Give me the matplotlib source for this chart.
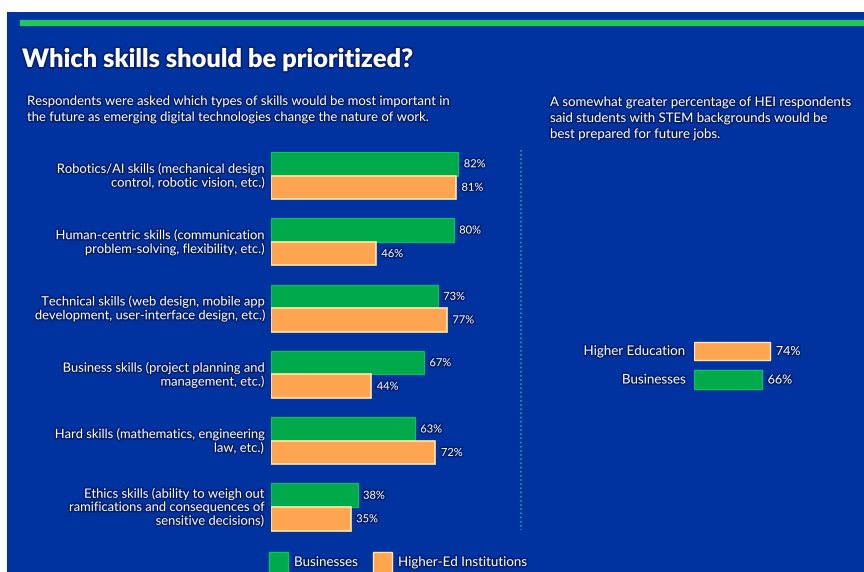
import matplotlib.pyplot as plt
import matplotlib.patheffects as pe
from matplotlib.patches import Rectangle
from matplotlib.lines import Line2D

plt.rcParams["font.family"] = ["Lato", "DejaVu Sans"]

# left chart data
skills = [
    "Robotics/AI skills (mechanical design\ncontrol, robotic vision, etc.)",
    "Human-centric skills (communication\nproblem-solving, flexibility, etc.)",
    "Technical skills (web design, mobile app\ndevelopment, user-interface design, etc.)",
    "Business skills (project planning and\nmanagement, etc.)",
    "Hard skills (mathematics, engineering\nlaw, etc.)",
    "Ethics skills (ability to weigh out\nramifications and consequences of\nsensitive decisions)",
]
businesses = [82, 80, 73, 67, 63, 38]
higher_ed = [81, 46, 77, 44, 72, 35]

# right chart data
stem_groups = ["Higher Education", "Businesses"]
stem_values = [74, 66]

BG = "#0033A0"
GREEN = "#00AA4B"
ORANGE = "#FFA552"
ORANGE_EDGE = "#FFE9A8"
GREEN_EDGE = "#10C060"
GLOW = [pe.withStroke(linewidth=2.2, foreground="#021E6E")]

W, H = 864, 572
fig = plt.figure(figsize=(W / 100, H / 100), dpi=100, facecolor="white")


def fx(px):
    return px / W


def fy(py):
    return 1 - py / H


# blue panel and green rule
fig.patches.append(Rectangle((fx(7), 0), 1 - fx(7), fy(12), transform=fig.transFigure,
                             facecolor=BG, edgecolor="none", zorder=-5))
fig.lines.append(Line2D([fx(23), 1], [fy(22.5), fy(22.5)], transform=fig.transFigure,
                        color="#22C55E", linewidth=4.5, zorder=1))
# dotted divider
fig.lines.append(Line2D([fx(520.5), fx(520.5)], [fy(150), fy(530)], transform=fig.transFigure,
                        color="#1FA0A0", linewidth=1.2, linestyle=(0, (1, 1.5)), zorder=1))

fig.text(fx(22), fy(60), "Which skills should be prioritized?", color="white", fontsize=18.3,
         fontweight="heavy", va="center", ha="left", path_effects=GLOW)
fig.text(fx(27), fy(109), "Respondents were asked which types of skills would be most important in\n"
         "the future as emerging digital technologies change the nature of work.",
         color="white", fontsize=9.4, va="center", ha="left", linespacing=1.4, path_effects=GLOW)
fig.text(fx(550), fy(118), "A somewhat greater percentage of HEI respondents\n"
         "said students with STEM backgrounds would be\nbest prepared for future jobs.",
         color="white", fontsize=9.5, va="center", ha="left", linespacing=1.4, path_effects=GLOW)

# left grouped bars
top_px, bot_px = 140, 540
ax = fig.add_axes([fx(270.5), fy(bot_px), fx(229), (bot_px - top_px) / H])
ax.set_facecolor("none")
ax.set_xlim(0, 100)
step = 66.3
c0 = 175.5
ax.set_ylim((bot_px - c0) / step, (top_px - c0) / step)
bh = 23.5 / step
ypos = list(range(len(skills)))
ax.barh([y - bh / 2 for y in ypos], businesses, height=bh, color=GREEN,
        edgecolor=GREEN_EDGE, linewidth=0.8)
ax.barh([y + bh / 2 for y in ypos], higher_ed, height=bh, color=ORANGE,
        edgecolor=ORANGE_EDGE, linewidth=1.2)
for y, b, h, lab in zip(ypos, businesses, higher_ed, skills):
    ax.text(b + 2.4, y - bh / 2, f"{b}%", color="white", fontsize=8, va="center",
            ha="left", path_effects=GLOW)
    ax.text(h + 2.4, y + bh / 2, f"{h}%", color="white", fontsize=8, va="center",
            ha="left", path_effects=GLOW)
    ax.text(-3, y, lab, color="white", fontsize=9.3, va="center", ha="right",
            linespacing=1.12, path_effects=GLOW)
ax.axis("off")

# legend
for sx, col, edge, name in [(269, GREEN, GREEN_EDGE, "Businesses"),
                            (373, ORANGE, ORANGE_EDGE, "Higher-Ed Institutions")]:
    fig.patches.append(Rectangle((fx(sx), fy(574)), fx(19), 22 / H, transform=fig.transFigure,
                                 facecolor=col, edgecolor=edge, linewidth=1.0, zorder=2))
    fig.text(fx(sx + 25), fy(562), name, color="white", fontsize=9.6, va="center",
             ha="left", path_effects=GLOW)

# right bars
rtop, rbot = 330, 400
ax2 = fig.add_axes([fx(694), fy(rbot), fx(103), (rbot - rtop) / H])
ax2.set_facecolor("none")
ax2.set_xlim(0, 100)
rstep = 28.5
rc0 = 351
ax2.set_ylim((rbot - rc0) / rstep, (rtop - rc0) / rstep)
rbh = 18.5 / rstep
rcolors = [ORANGE, GREEN]
redges = [ORANGE_EDGE, GREEN_EDGE]
for i, (g, v) in enumerate(zip(stem_groups, stem_values)):
    ax2.barh(i, v, height=rbh, color=rcolors[i], edgecolor=redges[i], linewidth=1.0)
    ax2.text(v + 5.5, i, f"{v}%", color="white", fontsize=9, va="center", ha="left",
             path_effects=GLOW)
    ax2.text(-8, i, g, color="white", fontsize=9.6, va="center", ha="right",
             path_effects=GLOW)
ax2.axis("off")

fig.savefig("out.png", dpi=100, facecolor="white")
